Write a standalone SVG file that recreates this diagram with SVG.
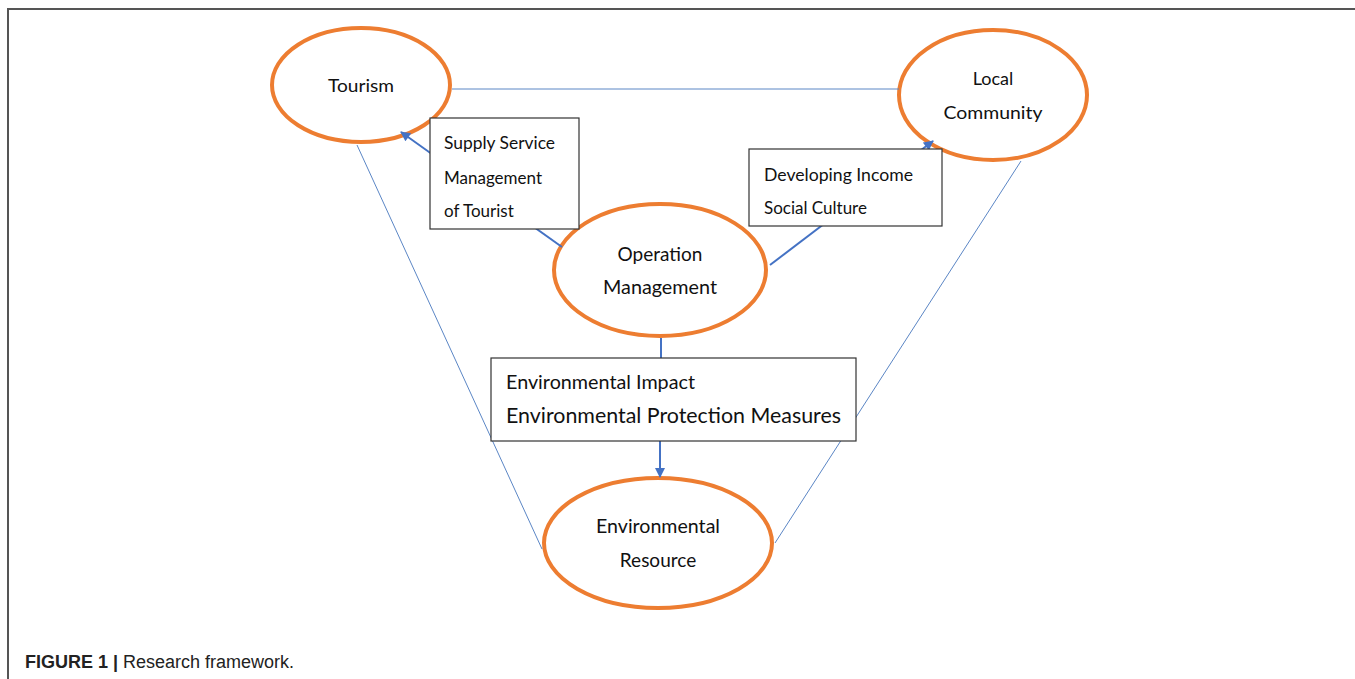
<svg xmlns="http://www.w3.org/2000/svg" width="1355" height="679" viewBox="0 0 1355 679">
<defs>
<style>
.ell{fill:#fff;stroke:#ED7D31;stroke-width:4}
.box{fill:#fff;stroke:#333;stroke-width:1.2}
.thin{stroke:#5B86C5;stroke-width:1;fill:none}
.arr{stroke:#4472C4;stroke-width:2;fill:none}
.t{font-family:Lato,"Liberation Sans",sans-serif;fill:#111}
.c{text-anchor:middle}
.cap{font-family:"Liberation Sans",Arial,sans-serif;font-size:18px;fill:#222}
</style>
<marker id="ah" viewBox="0 0 10 10" refX="9" refY="5" markerWidth="5.5" markerHeight="5" orient="auto" markerUnits="strokeWidth">
<path d="M0,0 L10,5 L0,10 z" fill="#4472C4"/>
</marker>
</defs>
<rect width="1355" height="679" fill="#fff"/>
<path d="M8,679 V9 H1355" fill="none" stroke="#555" stroke-width="2"/>
<g id="tourism">
<ellipse class="ell" cx="361" cy="85" rx="89" ry="57"/>
<text class="t c" x="361" y="92" font-size="18" textLength="66" lengthAdjust="spacingAndGlyphs">Tourism</text>
</g>
<g id="local-community">
<ellipse class="ell" cx="993" cy="95" rx="94" ry="65"/>
<text class="t c" x="993" y="85" font-size="18">Local</text>
<text class="t c" x="993" y="119" font-size="18" textLength="99" lengthAdjust="spacingAndGlyphs">Community</text>
</g>
<g id="operation-management">
<ellipse class="ell" cx="660" cy="270" rx="106" ry="66"/>
<text class="t c" x="660" y="261" font-size="19">Operation</text>
<text class="t c" x="660" y="294" font-size="19" textLength="114" lengthAdjust="spacingAndGlyphs">Management</text>
</g>
<g id="environmental-resource">
<ellipse class="ell" cx="658" cy="543" rx="114" ry="65"/>
<text class="t c" x="658" y="533" font-size="19" textLength="124" lengthAdjust="spacingAndGlyphs">Environmental</text>
<text class="t c" x="658" y="567" font-size="19">Resource</text>
</g>
<g id="connectors">
<line class="thin" x1="452" y1="89" x2="899" y2="89"/>
<line class="thin" x1="357" y1="145" x2="542" y2="549"/>
<line class="thin" x1="1021" y1="161" x2="775" y2="543"/>
<line class="arr" x1="562" y1="247" x2="401" y2="132" marker-end="url(#ah)"/>
<line class="arr" x1="770" y1="265" x2="933" y2="141" marker-end="url(#ah)"/>
<line class="arr" x1="661" y1="338" x2="661" y2="358"/>
<line class="arr" x1="660" y1="441" x2="660" y2="477" marker-end="url(#ah)"/>
</g>
<g id="supply-box">
<rect class="box" x="430" y="118" width="149" height="111"/>
<text class="t" x="444" y="149" font-size="17" textLength="111" lengthAdjust="spacingAndGlyphs">Supply Service</text>
<text class="t" x="444" y="184" font-size="17">Management</text>
<text class="t" x="444" y="217" font-size="17">of Tourist</text>
</g>
<g id="developing-box">
<rect class="box" x="749" y="149" width="193" height="77"/>
<text class="t" x="764" y="181" font-size="17" textLength="149" lengthAdjust="spacingAndGlyphs">Developing Income</text>
<text class="t" x="764" y="214" font-size="17">Social Culture</text>
</g>
<g id="environment-box">
<rect class="box" x="491" y="358" width="365" height="83"/>
<text class="t" x="506" y="389" font-size="19" textLength="189" lengthAdjust="spacingAndGlyphs">Environmental Impact</text>
<text class="t" x="506" y="423" font-size="21" textLength="335" lengthAdjust="spacingAndGlyphs">Environmental Protection Measures</text>
</g>
<g id="caption">
<text class="cap" x="25" y="668"><tspan font-weight="bold">FIGURE 1 |</tspan> Research framework.</text>
</g>
</svg>
